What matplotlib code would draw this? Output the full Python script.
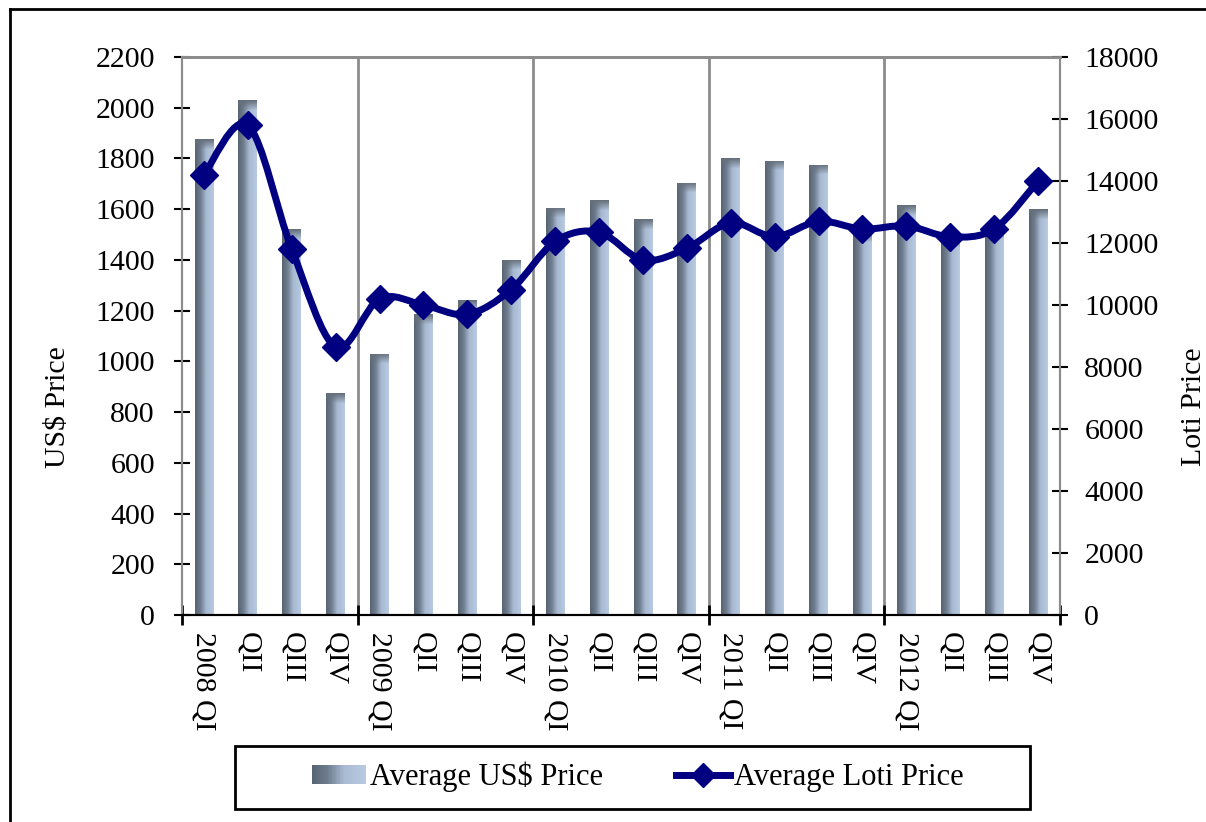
import numpy as np
import matplotlib
matplotlib.use("Agg")
import matplotlib.pyplot as plt
from matplotlib.path import Path
from matplotlib.patches import PathPatch, Rectangle
from matplotlib.lines import Line2D
from matplotlib.legend_handler import HandlerBase

# ── Data ──────────────────────────────────────────────────────────────────────
quarters = ["2008 QI", "QII", "QIII", "QIV",
            "2009 QI", "QII", "QIII", "QIV",
            "2010 QI", "QII", "QIII", "QIV",
            "2011 QI", "QII", "QIII", "QIV",
            "2012 QI", "QII", "QIII", "QIV"]
usd_price = [1875, 2030, 1520, 875,
             1030, 1185, 1240, 1400,
             1605, 1635, 1560, 1705,
             1800, 1790, 1775, 1510,
             1615, 1490, 1520, 1600]
loti_price = [14200, 15800, 11800, 8650,
              10200, 10000, 9700, 10500,
              12050, 12350, 11450, 11830,
              12650, 12200, 12700, 12450,
              12550, 12200, 12450, 14000]

NAVY = "#000080"
GRID = "#8c8c8c"
FONT = "Liberation Serif"
plt.rcParams["font.family"] = [FONT, "DejaVu Serif"]
FS = 21.5

# bar gradient: dark slate on the left, pale blue on the right
stops = np.array([0.0, 0.3, 0.6, 1.0])
cols = np.array([[0x58, 0x64, 0x72], [0x70, 0x7e, 0x90],
                 [0xa8, 0xba, 0xd2], [0xb8, 0xca, 0xe2]]) / 255.0


def h_gradient(n):
    t = np.linspace(0, 1, n)
    return np.stack([np.interp(t, stops, cols[:, k]) for k in range(3)], axis=1)


fig = plt.figure(figsize=(12.06, 8.22), dpi=100)
ax = fig.add_axes([182 / 1206, 1 - 615 / 822, 878 / 1206, 558 / 822])
ax2 = ax.twinx()

x = np.arange(len(quarters))
bars = ax.bar(x, usd_price, width=0.43, color="none", edgecolor="none", zorder=2)

# fill every bar with the gradient, clipped to the bar rectangle
px_per_unit = 558 / 2200
for b in bars:
    x0, y0 = b.get_x(), b.get_y()
    w, h = b.get_width(), b.get_height()
    nrow = max(int(h * px_per_unit), 2)
    img = np.repeat(h_gradient(40)[None, :, :], nrow, axis=0)
    fade = np.clip(np.arange(nrow) / 10.0, 0, 1)[:, None, None]
    cap = np.array([0x66, 0x70, 0x7c]) / 255.0
    img = img * fade + cap * (1 - fade)
    im = ax.imshow(img, extent=(x0, x0 + w, y0, y0 + h), origin="upper",
                   aspect="auto", zorder=2, interpolation="bilinear")
    im.set_clip_path(b)

ax.set_xlim(-0.5, len(quarters) - 0.5)
ax.set_ylim(0, 2200)
ax.set_yticks(np.arange(0, 2201, 200))
ax2.set_ylim(0, 18000)
ax2.set_yticks(np.arange(0, 18001, 2000))

# year separators
for xb in [3.5, 7.5, 11.5, 15.5]:
    ax.axvline(xb, color=GRID, lw=2, zorder=1)

# smoothed line (Bezier through the points, as the spreadsheet draws it)
pts = np.column_stack([x, loti_price]).astype(float)
verts = [tuple(pts[0])]
codes = [Path.MOVETO]
for i in range(len(pts) - 1):
    p_prev = pts[i - 1] if i > 0 else pts[i]
    p_next2 = pts[i + 2] if i + 2 < len(pts) else pts[i + 1]
    c1 = pts[i] + (pts[i + 1] - p_prev) / 6.0
    c2 = pts[i + 1] - (p_next2 - pts[i]) / 6.0
    verts += [tuple(c1), tuple(c2), tuple(pts[i + 1])]
    codes += [Path.CURVE4] * 3
ax2.add_patch(PathPatch(Path(verts, codes), facecolor="none", edgecolor=NAVY,
                        lw=5, zorder=3, capstyle="round", joinstyle="round"))
ax2.plot(x, loti_price, linestyle="none", marker="D", markersize=14,
         color=NAVY, zorder=4)

# spines / ticks
for a in (ax, ax2):
    a.spines["top"].set_color(GRID)
    a.spines["top"].set_linewidth(2)
    a.spines["left"].set_color(GRID)
    a.spines["right"].set_color(GRID)
    a.spines["left"].set_linewidth(1.5)
    a.spines["right"].set_linewidth(1.5)
    a.spines["bottom"].set_color("black")
    a.spines["bottom"].set_linewidth(1.5)

ax.tick_params(axis="y", direction="inout", length=11, width=1.5,
               labelsize=FS, pad=14, colors="black")
ax2.tick_params(axis="y", direction="inout", length=11, width=1.5,
                labelsize=FS, pad=12, colors="black")

ax.set_xticks([-0.5, 3.5, 7.5, 11.5, 15.5, 19.5])
ax.set_xticklabels([])
ax.tick_params(axis="x", which="major", direction="inout", length=14, width=2)
ax.set_xticks(x, minor=True)
ax.set_xticklabels(quarters, minor=True, rotation=-90, fontsize=FS)
ax.tick_params(axis="x", which="minor", length=0, pad=12)

ax.set_ylabel("US$ Price", fontsize=FS)
ax.yaxis.set_label_coords(-0.126, 0.373)
ax2.set_ylabel("Loti Price", fontsize=FS, rotation=90)
ax2.yaxis.set_label_coords(1.138, 0.373)

ax.set_zorder(1)
ax2.set_zorder(2)
ax.patch.set_visible(False)


# ── Legend ────────────────────────────────────────────────────────────────────
class GradientHandler(HandlerBase):
    def create_artists(self, legend, orig_handle, xdescent, ydescent,
                       width, height, fontsize, trans):
        n = 40
        colors = h_gradient(n)
        arts = []
        for k in range(n):
            r = Rectangle((-xdescent + k * width / n, -ydescent + height * 0.05),
                          width / n + 0.5, height * 0.9,
                          facecolor=colors[k], edgecolor="none", lw=0,
                          transform=trans)
            arts.append(r)
        return arts


bar_handle = Rectangle((0, 0), 1, 1)
line_handle = Line2D([], [], color=NAVY, lw=5, marker="D", markersize=12)
fig.legend([bar_handle, line_handle], ["Average US$ Price", "Average Loti Price"],
           handler_map={Rectangle: GradientHandler()},
           loc="center", bbox_to_anchor=(638 / 1206, 1 - 777 / 822),
           ncol=2, frameon=False, fontsize=22, handlelength=1.75,
           handletextpad=0.15, columnspacing=2.4)
fig.add_artist(Rectangle((235 / 1206, 1 - 809 / 822), 795 / 1206, 63 / 822,
                         transform=fig.transFigure, facecolor="none",
                         edgecolor="black", lw=2))

# outer frame (left and top edges)
fig.add_artist(Line2D([10 / 1206, 10 / 1206], [0, 1 - 9 / 822],
                      transform=fig.transFigure, color="black", lw=2))
fig.add_artist(Line2D([10 / 1206, 1], [1 - 9 / 822, 1 - 9 / 822],
                      transform=fig.transFigure, color="black", lw=2))

fig.savefig("out.png", dpi=100)
plt.close(fig)
